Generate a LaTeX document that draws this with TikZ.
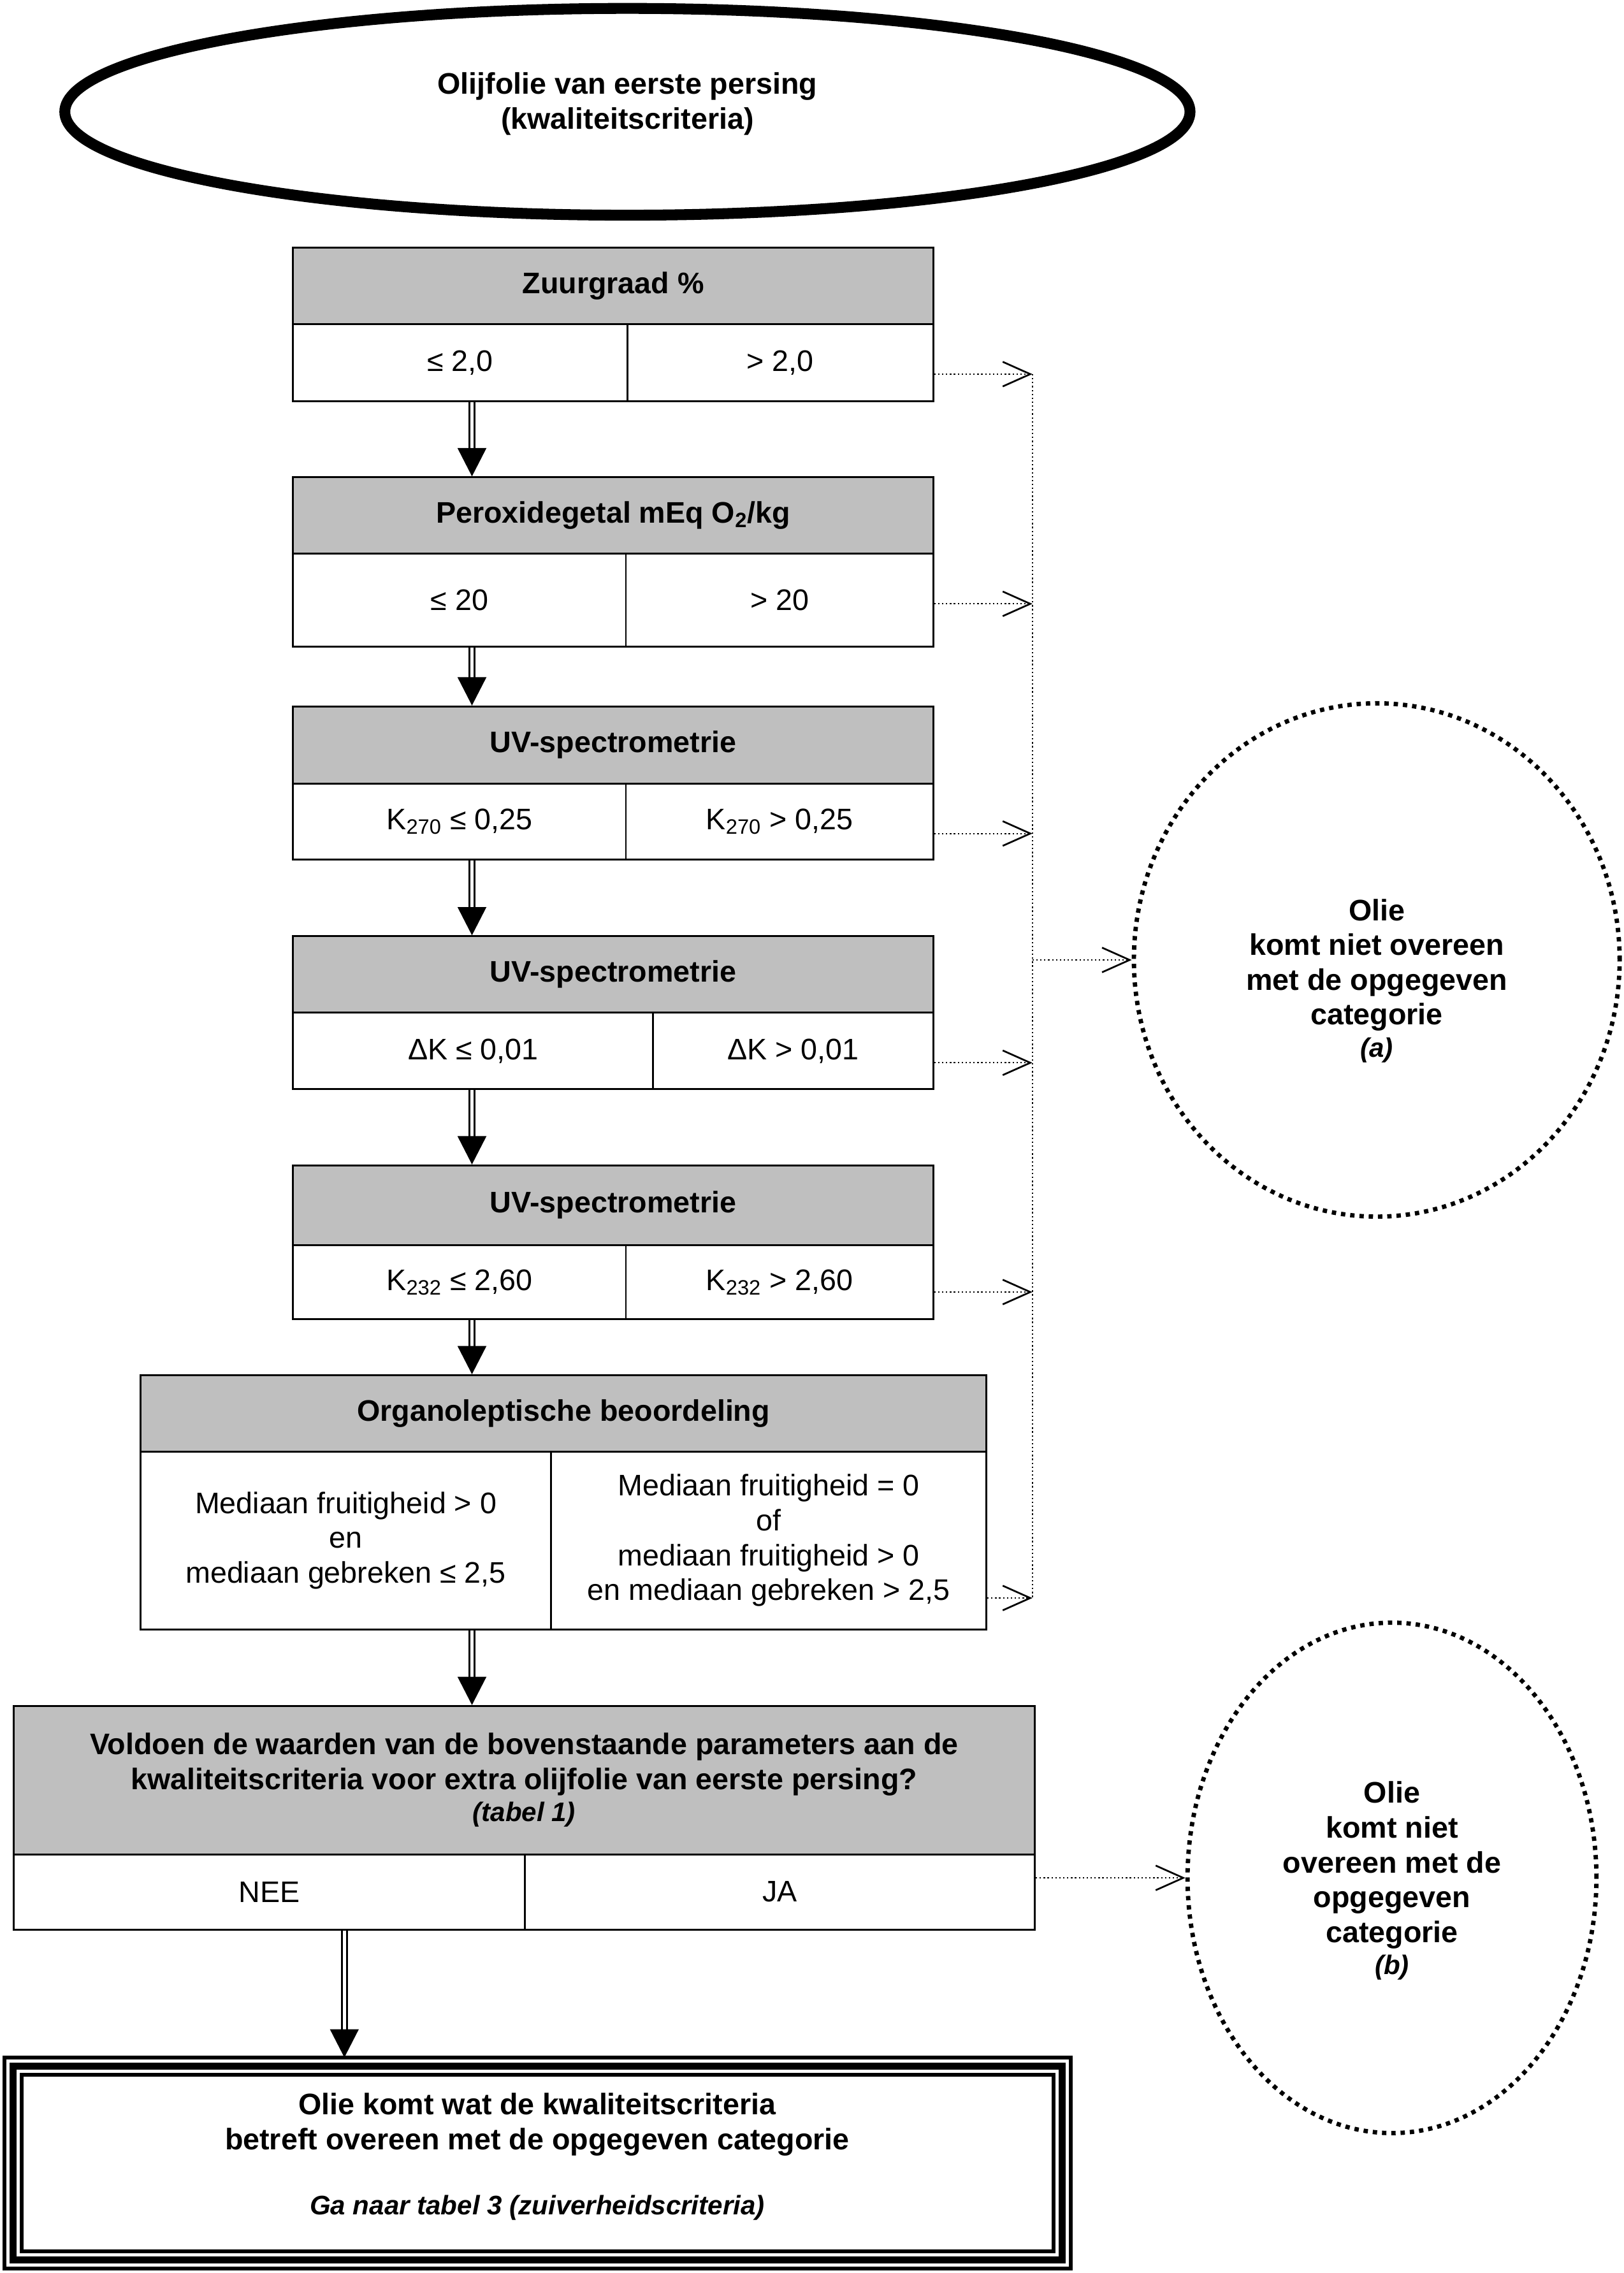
\documentclass[tikz,border=0pt]{standalone}
\usepackage{fontspec}
\setmainfont{Liberation Sans}
\usetikzlibrary{arrows.meta,shapes.geometric,calc}
\newcommand\fsn{\fontsize{20.5pt}{24pt}\selectfont}
\newcommand\fss{\fontsize{18.5pt}{22pt}\selectfont}
\newcommand\dblarrow[2]{%
  \draw[dblline] #1 -- ($#2+(0,-18)$);
  \fill #2 -- ++(-10,-19.5) -- ++(20,0) -- cycle;}
\begin{document}
\begin{tikzpicture}[x=1pt,y=-1pt,
  wh/.style 2 args={minimum width=#1pt, minimum height=#2pt},
  box/.style={draw, line width=1.3pt, inner sep=0pt, anchor=north west, align=center, font=\fsn},
  hdr/.style={box, fill=black!25, font=\fsn\bfseries},
  cell/.style={box, fill=white},
  txt/.style={inner sep=0pt, align=center, font=\fsn},
  dotc/.style={line width=1pt, dash pattern=on 1pt off 1.7pt},
  dotarr/.style={dotc, -{Straight Barb[length=19pt,width=17pt,line width=1.2pt]}},
  dblline/.style={draw=black, line width=1.2pt, double=white, double distance=2.4pt},
  oval/.style={ellipse, draw, inner sep=0pt, line width=3pt, dash pattern=on 3pt off 3.4pt},
]
\useasboundingbox (0,0) rectangle (1120,1567.5);

% top ellipse
\node[ellipse, draw, line width=7.5pt, inner sep=0pt, minimum width=776pt, minimum height=142.6pt] (top) at (432.7,77.1) {};
\node[txt, font=\fsn\bfseries] (t0) at (432.7,71.7) {Olijfolie van eerste persing\\(kwaliteitscriteria)};

% box 1
\node[hdr, wh={441.5}{52.9}] (h1) at (201.5,170) {Zuurgraad \%};
\node[cell, wh={230.4}{53}] (l1) at (201.5,222.9) {≤ 2,0};
\node[cell, wh={211.1}{53}] (r1) at (431.9,222.9) {> 2,0};

% box 2
\node[hdr, wh={441.5}{52.7}] (h2) at (201.5,328.5) {Peroxidegetal mEq O\textsubscript{2}/kg};
\node[cell, wh={229.5}{63.9}] (l2) at (201.5,381.2) {≤ 20};
\node[cell, wh={212}{63.9}] (r2) at (431,381.2) {> 20};

% box 3
\node[hdr, wh={441.5}{53.1}] (h3) at (201.5,486.5) {UV-spectrometrie};
\node[cell, wh={229.5}{52.6}] (l3) at (201.5,539.6) {K\textsubscript{270} ≤ 0,25};
\node[cell, wh={212}{52.6}] (r3) at (431,539.6) {K\textsubscript{270} > 0,25};

% box 4
\node[hdr, wh={441.5}{52.7}] (h4) at (201.5,645) {UV-spectrometrie};
\node[cell, wh={248.3}{52.8}] (l4) at (201.5,697.7) {ΔK ≤ 0,01};
\node[cell, wh={193.2}{52.8}] (r4) at (449.8,697.7) {ΔK > 0,01};

% box 5
\node[hdr, wh={441.5}{55}] (h5) at (201.5,803) {UV-spectrometrie};
\node[cell, wh={229.5}{51}] (l5) at (201.5,858) {K\textsubscript{232} ≤ 2,60};
\node[cell, wh={212}{51}] (r5) at (431,858) {K\textsubscript{232} > 2,60};

% box 6
\node[hdr, wh={583.3}{52.6}] (h6) at (96.3,947.7) {Organoleptische beoordeling};
\node[cell, wh={283.1}{122.8}] (l6) at (96.3,1000.3) {Mediaan fruitigheid > 0\\en\\mediaan gebreken ≤ 2,5};
\node[cell, wh={300.2}{122.8}] (r6) at (379.4,1000.3) {Mediaan fruitigheid = 0\\of\\mediaan fruitigheid > 0\\en mediaan gebreken > 2,5};

% box 7
\node[hdr, wh={704.4}{102.3}] (h7) at (8.6,1175.8) {Voldoen de waarden van de bovenstaande parameters aan de\\kwaliteitscriteria voor extra olijfolie van eerste persing?\\[-2pt]{\fss\itshape (tabel 1)}};
\node[cell, wh={352.9}{51.9}] (l7) at (8.6,1278.1) {NEE};
\node[cell, wh={351.5}{51.9}] (r7) at (361.5,1278.1) {JA};

% box 8 (triple border)
\node[draw, line width=2.5pt, inner sep=0pt, outer sep=0pt, minimum width=735.5pt, minimum height=145.6pt] (b8) at (370.8,1491.65) {};
\draw[line width=4.8pt] ([xshift=5.95pt,yshift=-5.95pt]b8.north west) rectangle ([xshift=-5.95pt,yshift=5.95pt]b8.south east);
\draw[line width=2.6pt] ([xshift=11.85pt,yshift=-11.85pt]b8.north west) rectangle ([xshift=-11.85pt,yshift=11.85pt]b8.south east);
\node[txt, font=\fsn\bfseries] (t8) at (370.5,1465) {Olie komt wat de kwaliteitscriteria\\betreft overeen met de opgegeven categorie};
\node[txt, font=\fss\bfseries\itshape] (t8b) at (370.5,1522.3) {Ga naar tabel 3 (zuiverheidscriteria)};

% right ellipses
\node[oval, minimum width=335pt, minimum height=354pt] (ea) at (949.5,662) {};
\node[txt, font=\fsn\bfseries] (ta) at (949.5,676.3) {Olie\\komt niet overeen\\met de opgegeven\\categorie\\[-2pt]{\fss\itshape (a)}};
\node[oval, minimum width=282pt, minimum height=352pt] (eb) at (960,1295) {};
\node[txt, font=\fsn\bfseries] (tb) at (960,1297) {Olie\\komt niet\\overeen met de\\opgegeven\\categorie\\[-2pt]{\fss\itshape (b)}};

% helper coordinates
\coordinate (ax) at (325.5,0);
\coordinate (bx) at (237.5,0);
\coordinate (vx) at (712,0);
\coordinate (y1) at (0,258);
\coordinate (y2) at (0,416.4);
\coordinate (y3) at (0,574.8);
\coordinate (y4) at (0,732.9);
\coordinate (y5) at (0,891);
\coordinate (y6) at (0,1102);

% double arrows
\dblarrow{(l1.south -| ax)}{(h2.north -| ax)}
\dblarrow{(l2.south -| ax)}{(h3.north -| ax)}
\dblarrow{(l3.south -| ax)}{(h4.north -| ax)}
\dblarrow{(l4.south -| ax)}{(h5.north -| ax)}
\dblarrow{(l5.south -| ax)}{(h6.north -| ax)}
\dblarrow{(l6.south -| ax)}{(h7.north -| ax)}
\dblarrow{(l7.south -| bx)}{(b8.north -| bx)}

% dotted arrows
\draw[dotc] (vx |- y1) -- (vx |- y6);
\draw[dotarr] (r1.east |- y1) -- (vx |- y1);
\draw[dotarr] (r2.east |- y2) -- (vx |- y2);
\draw[dotarr] (r3.east |- y3) -- (vx |- y3);
\draw[dotarr] (r4.east |- y4) -- (vx |- y4);
\draw[dotarr] (r5.east |- y5) -- (vx |- y5);
\draw[dotarr] (r6.east |- y6) -- (vx |- y6);
\draw[dotarr] (vx |- ea.west) -- (ea.west);
\draw[dotarr] (r7.east |- eb.west) -- (eb.west);
\end{tikzpicture}
\end{document}
